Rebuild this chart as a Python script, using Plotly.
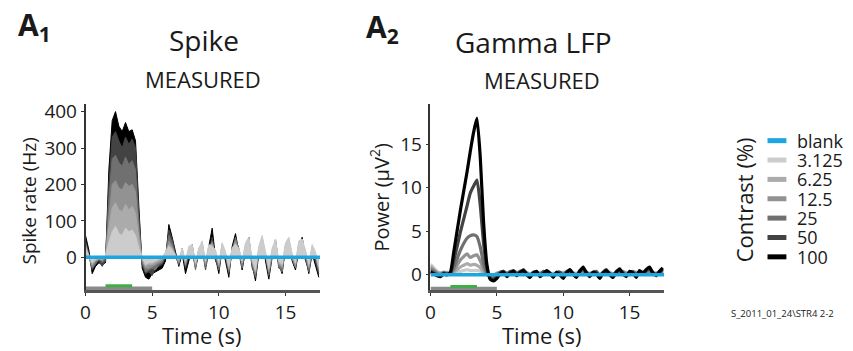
import numpy as np
import plotly.graph_objects as go

W, H = 853, 351

# ---------------- data ----------------
t = np.arange(71) * 0.25  # time axis, 0 .. 17.5 s

contrast_labels = ["blank", "3.125", "6.25", "12.5", "25", "50", "100"]
contrast_colors = ["#1ba6e0", "#cccccc", "#ababab", "#929292", "#707070", "#434343", "#000000"]

blank_t = [0, 17.6]
blank_spike = [0, 0]
blank_lfp = [0, 0]

spike_3125 = [25, 5, -15, -5, 0, -5, 5, 40,
              70, 85, 65, 60, 80, 70, 75, 60,
              25, 0, -20, -15, -15, -10, -5, 0,
              15, 30, 20, 5, -5, 25, -10, 30,
              35, -15, 25, 45, -10, 35, 30, 20,
              -15, 40, 15, -25, 25, 35, 25, -10,
              40, 55, -5, -35, 30, 60, 15, -30,
              25, 50, -10, -20, 40, 55, 10, -15,
              45, 50, 20, -20, 35, 15, -25]
spike_625 = [30, 0, -20, -10, -5, -5, 5, 80,
             135, 150, 130, 125, 145, 130, 140, 120,
             50, -5, -25, -20, -20, -15, -10, -5,
             10, 35, 25, 0, -10, 20, -15, 25,
             30, -20, 20, 40, -15, 30, 35, 15,
             -20, 35, 10, -30, 20, 40, 20, -15,
             35, 50, -10, -40, 25, 55, 10, -35,
             20, 45, -15, -25, 35, 50, 5, -20,
             40, 45, 15, -25, 30, 10, -30]
spike_125 = [35, 5, -25, -10, 0, -10, 0, 110,
             200, 210, 190, 185, 205, 195, 200, 180,
             70, -10, -30, -30, -25, -20, -15, -10,
             10, 45, 30, 5, -15, 15, -20, 20,
             25, -25, 15, 35, -20, 25, 40, 10,
             -25, 30, 5, -35, 25, 45, 15, -20,
             30, 45, -15, -45, 20, 50, 5, -40,
             15, 40, -20, -30, 30, 45, 0, -25,
             35, 40, 10, -30, 25, 5, -35]
spike_25 = [40, 0, -30, -20, -5, -15, -5, 160,
            270, 280, 260, 250, 275, 255, 265, 240,
            90, -15, -40, -35, -30, -35, -20, -15,
            5, 60, 40, 0, -20, 25, -25, 15,
            20, -35, 25, 20, -30, 20, 45, 5,
            -35, 20, 10, -40, 15, 55, 20, -30,
            25, 40, -20, -55, 15, 40, 10, -50,
            5, 50, -25, -40, 25, 35, -5, -30,
            25, 50, 5, -40, 15, 0, -40]
spike_50 = [45, 10, -35, -15, -10, -25, -10, 200,
            330, 345, 320, 300, 330, 310, 325, 300,
            120, -20, -45, -40, -50, -30, -25, -20,
            0, 75, 50, 10, -10, 20, -30, 5,
            35, -20, 20, 30, -35, 15, 55, -10,
            -30, 35, 0, -45, 20, 50, 25, -25,
            10, 45, -30, -50, 20, 45, 0, -45,
            10, 35, -30, -35, 20, 40, 0, -25,
            30, 45, -10, -35, 20, -10, -45]
spike_100 = [60, 20, -45, -25, -15, -20, -15, 240,
             375, 400, 360, 345, 370, 345, 350, 320,
             140, -30, -55, -60, -45, -40, -35, -30,
             -10, 90, 55, 15, -25, 10, -45, -10,
             25, -30, 10, 40, -25, 30, 80, 0,
             -45, 25, -10, -55, 30, 65, 10, -35,
             20, 55, -20, -65, 10, 55, -10, -60,
             0, 45, -20, -45, 30, 50, -10, -35,
             20, 55, 0, -45, 10, -20, -55]

lfp_3125 = [1.2, 0.8, 0.4, 0.2, 0.3, 0.2, 0.2, 0.2,
            0.3, 0.4, 0.5, 0.6, 0.5, 0.5, 0.5, 0.4,
            0.2, 0.1, 0.0, 0.0, 0.1, 0.3, 0.2, 0.2,
            0.1, 0.3, 0.3, 0.2, 0.2, 0.3, 0.1, 0.2,
            0.1, 0.3, 0.2, 0.2, 0.1, 0.2, 0.2, 0.1,
            0.3, 0.1, 0.2, 0.2, 0.2, 0.1, 0.2, 0.3,
            0.2, 0.2, 0.1, 0.1, 0.2, 0.1, 0.3, 0.1,
            0.2, 0.2, 0.2, 0.3, 0.1, 0.1, 0.2, 0.2,
            0.2, 0.3, 0.2, 0.2, 0.2, 0.2, 0.2]
lfp_625 = [1.0, 0.6, 0.3, 0.2, 0.2, 0.3, 0.1, 0.3,
           0.6, 0.9, 1.1, 1.3, 1.1, 1.2, 1.1, 0.8,
           0.3, 0.0, -0.1, -0.1, 0.2, 0.2, 0.3, 0.1,
           0.2, 0.5, 0.2, 0.3, 0.3, 0.2, 0.1, 0.1,
           0.2, 0.2, 0.1, 0.3, 0.2, 0.1, 0.1, 0.2,
           0.2, 0.2, 0.3, 0.1, 0.1, 0.2, 0.3, 0.2,
           0.1, 0.3, 0.2, 0.0, 0.2, 0.2, 0.2, 0.0,
           0.3, 0.2, 0.3, 0.2, 0.0, 0.2, 0.3, 0.1,
           0.3, 0.2, 0.3, 0.2, 0.1, 0.3, 0.3]
lfp_125 = [0.8, 0.5, 0.2, 0.1, 0.3, 0.2, 0.2, 0.5,
           1.1, 1.7, 2.1, 2.4, 2.0, 2.2, 2.3, 1.6,
           0.7, 0.1, -0.1, -0.2, 0.1, 0.3, 0.2, 0.2,
           0.3, 0.4, 0.3, 0.2, 0.4, 0.1, 0.0, 0.2,
           0.3, 0.1, 0.2, 0.4, 0.1, 0.0, 0.2, 0.3,
           0.1, 0.3, 0.2, 0.2, 0.0, 0.3, 0.4, 0.3,
           0.0, 0.2, 0.3, -0.1, 0.3, 0.3, 0.1, 0.1,
           0.2, 0.3, 0.4, 0.1, 0.1, 0.3, 0.2, 0.2,
           0.4, 0.3, 0.4, 0.1, 0.2, 0.2, 0.4]
lfp_25 = [0.6, 0.4, 0.1, 0.0, 0.2, 0.1, 0.2, 0.8,
          1.8, 2.8, 3.6, 4.2, 4.5, 4.6, 4.4, 3.2,
          1.3, 0.2, -0.2, -0.3, 0.0, 0.3, 0.4, 0.1,
          0.4, 0.3, 0.2, 0.4, 0.5, 0.2, -0.1, 0.3,
          0.1, 0.0, 0.4, 0.3, 0.2, -0.1, 0.3, 0.2,
          0.0, 0.4, 0.3, 0.1, -0.1, 0.4, 0.5, 0.2,
          0.1, 0.3, 0.4, -0.2, 0.2, 0.4, 0.2, 0.0,
          0.3, 0.4, 0.3, 0.0, 0.2, 0.4, 0.1, 0.3,
          0.3, 0.4, 0.5, 0.2, 0.1, 0.3, 0.5]
lfp_50 = [0.4, 0.2, 0.0, -0.1, 0.2, 0.1, 0.2, 1.6,
          3.2, 4.9, 6.4, 7.9, 9.4, 10.2, 10.9, 8.0,
          3.6, 0.7, -0.4, -0.5, -0.2, 0.2, 0.4, 0.0,
          0.3, 0.5, 0.1, 0.2, 0.6, 0.1, -0.2, 0.3,
          0.2, -0.1, 0.3, 0.4, 0.1, -0.2, 0.2, 0.3,
          -0.2, 0.3, 0.5, 0.0, -0.2, 0.5, 0.7, 0.3,
          -0.1, 0.2, 0.3, -0.3, 0.3, 0.6, 0.1, -0.2,
          0.4, 0.5, 0.2, -0.1, 0.3, 0.3, -0.1, 0.4,
          0.2, 0.5, 0.7, 0.3, 0.0, 0.3, 0.6]
lfp_100 = [0.3, 0.1, -0.1, -0.2, 0.1, 0.0, 0.3, 2.6,
           5.0, 7.4, 9.6, 11.8, 14.2, 16.4, 18.0, 13.5,
           6.0, 1.2, -0.5, -0.7, -0.4, 0.1, 0.3, -0.2,
           0.2, 0.4, -0.1, 0.3, 0.5, 0.0, -0.3, 0.2,
           0.4, -0.2, 0.1, 0.5, 0.2, -0.3, 0.3, 0.0,
           -0.4, 0.2, 0.6, 0.1, -0.3, 0.4, 0.9, 0.2,
           -0.2, 0.3, 0.1, -0.4, 0.2, 0.5, 0.0, -0.3,
           0.3, 0.7, 0.1, -0.2, 0.4, 0.2, -0.3, 0.5,
           0.1, 0.6, 0.9, 0.2, -0.1, 0.4, 0.8]

spike_series = [spike_3125, spike_625, spike_125, spike_25, spike_50, spike_100]
lfp_series = [lfp_3125, lfp_625, lfp_125, lfp_25, lfp_50, lfp_100]

stim_window = [0, 5]        # grey bar (s)
analysis_window = [1.5, 3.5]  # green bar (s)

spike_ticks = [0, 100, 200, 300, 400]
lfp_ticks = [0, 5, 10, 15]
time_ticks = [0, 5, 10, 15]

FONT = "Open Sans"
TXT = "#1a1a1a"

fig = go.Figure()

# ---------------- spike panel ----------------
for lab, col, ys in reversed(list(zip(contrast_labels[1:], contrast_colors[1:], spike_series))):
    fig.add_trace(go.Scatter(x=t, y=ys, mode="lines", fill="tozeroy", fillcolor=col,
                             line=dict(color=col, width=1),
                             xaxis="x", yaxis="y", showlegend=False, name=lab))
fig.add_trace(go.Scatter(x=blank_t, y=blank_spike, mode="lines",
                         line=dict(color=contrast_colors[0], width=3.5),
                         xaxis="x", yaxis="y", showlegend=False, name="blank"))

# ---------------- LFP panel ----------------
for lab, col, ys in zip(contrast_labels[1:], contrast_colors[1:], lfp_series):
    fig.add_trace(go.Scatter(x=t, y=ys, mode="lines",
                             line=dict(color=col, width=3.2, shape="spline", smoothing=0.5),
                             xaxis="x2", yaxis="y2", showlegend=False, name=lab))
fig.add_trace(go.Scatter(x=blank_t, y=blank_lfp, mode="lines",
                         line=dict(color=contrast_colors[0], width=3.5),
                         xaxis="x2", yaxis="y2", showlegend=False, name="blank"))

# stimulus bars
for xa, ya, ybar_g, ybar_s in [("x", "y", -78, -86), ("x2", "y2", -1.35, -1.6)]:
    fig.add_trace(go.Scatter(x=stim_window, y=[ybar_s, ybar_s], mode="lines",
                             line=dict(color="#8a8a8a", width=4), xaxis=xa, yaxis=ya,
                             showlegend=False, hoverinfo="skip"))
    fig.add_trace(go.Scatter(x=analysis_window, y=[ybar_g, ybar_g], mode="lines",
                             line=dict(color="#3fae49", width=3), xaxis=xa, yaxis=ya,
                             showlegend=False, hoverinfo="skip"))


def px_x(p):
    return p / W


def px_y(p):
    return 1 - p / H


ydom = [px_y(289), px_y(100)]
axis_common = dict(showgrid=False, zeroline=False, showline=True, ticks="outside",
                   ticklen=3, tickwidth=1, tickcolor="#333",
                   tickfont=dict(family=FONT, size=19, color=TXT))

fig.update_layout(
    width=W, height=H, margin=dict(l=0, r=0, t=0, b=0),
    paper_bgcolor="white", plot_bgcolor="white", showlegend=False,
    xaxis=dict(domain=[px_x(81), px_x(317)], range=[0, 17.6], anchor="y",
               tickvals=time_ticks, linecolor="#555", linewidth=2.5, **axis_common),
    yaxis=dict(domain=ydom, range=[-90, 420], anchor="x", tickvals=spike_ticks,
               linecolor="#333", linewidth=1.5, **axis_common),
    xaxis2=dict(domain=[px_x(428), px_x(663)], range=[0, 17.6], anchor="y2",
                tickvals=time_ticks, linecolor="#555", linewidth=2.5, **axis_common),
    yaxis2=dict(domain=ydom, range=[-1.75, 19.6], anchor="x2", tickvals=lfp_ticks,
                linecolor="#333", linewidth=1.5, **axis_common),
)

ann = []


def add_text(text, x, y, size, xanchor="center", yanchor="middle", angle=0, color=TXT):
    ann.append(dict(text=text, x=px_x(x), y=px_y(y), xref="paper", yref="paper",
                    showarrow=False, xanchor=xanchor, yanchor=yanchor, textangle=angle,
                    font=dict(family=FONT, size=size, color=color)))


add_text("<b>A<sub>1</sub></b>", 11, 20, 30, xanchor="left")
add_text("<b>A<sub>2</sub></b>", 361, 22, 30, xanchor="left")
add_text("Spike", 200, 35, 28)
add_text("MEASURED", 199, 74, 22)
add_text("Gamma LFP", 532, 37, 28)
add_text("MEASURED", 540, 75, 22)
add_text("Spike rate (Hz)", 24, 198, 19, angle=-90)
add_text("Power (μV<sup>2</sup>)", 377, 195, 20, angle=-90)
add_text("Time (s)", 198, 335, 22)
add_text("Time (s)", 540, 335, 22)
add_text("Contrast (%)", 743, 197, 22, angle=-90)
add_text("S_2011_01_24\\STR4 2-2", 728, 313, 9.5, xanchor="left")

# manual legend built from the label / colour lists
shapes = []
for i, (lab, col) in enumerate(zip(contrast_labels, contrast_colors)):
    yy = 137 + i * 19.7
    shapes.append(dict(type="line", xref="paper", yref="paper",
                       x0=px_x(767), x1=px_x(786), y0=px_y(yy), y1=px_y(yy),
                       line=dict(color=col, width=5)))
    add_text(lab, 795, yy, 18, xanchor="left")

fig.update_layout(annotations=ann, shapes=shapes)

fig.write_html("out.html", config={"displayModeBar": False},
               post_script="document.body.style.margin='0';")
